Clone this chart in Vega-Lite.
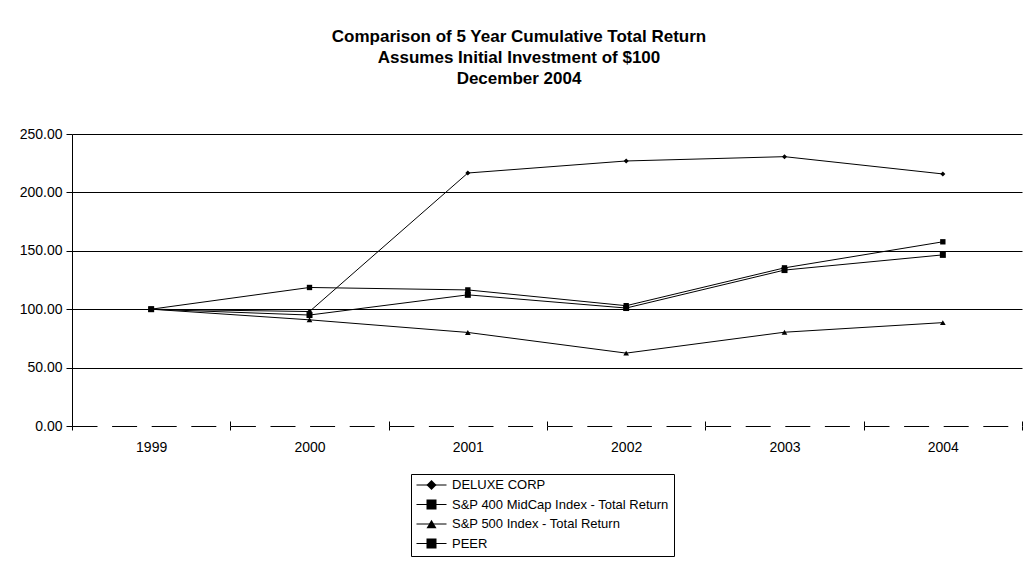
{
  "$schema": "https://vega.github.io/schema/vega-lite/v6.json",
  "width": 950,
  "height": 292,
  "autosize": "none",
  "padding": {"left": 72, "top": 134, "right": 1, "bottom": 141},
  "background": "white",
  "title": {
    "text": ["Comparison of 5 Year Cumulative Total Return", "Assumes Initial Investment of $100", "December 2004"],
    "anchor": "middle",
    "frame": "group",
    "dx": -28,
    "offset": 39,
    "font": "Liberation Sans",
    "fontSize": 17,
    "fontWeight": "bold",
    "color": "black",
    "lineHeight": 21
  },
  "data": {
    "values": [
      {"year": "1999", "series": "DELUXE CORP", "value": 100},
      {"year": "2000", "series": "DELUXE CORP", "value": 98},
      {"year": "2001", "series": "DELUXE CORP", "value": 216.6},
      {"year": "2002", "series": "DELUXE CORP", "value": 226.9},
      {"year": "2003", "series": "DELUXE CORP", "value": 230.6},
      {"year": "2004", "series": "DELUXE CORP", "value": 215.8},
      {"year": "1999", "series": "S&P 400 MidCap Index - Total Return", "value": 100},
      {"year": "2000", "series": "S&P 400 MidCap Index - Total Return", "value": 118.6},
      {"year": "2001", "series": "S&P 400 MidCap Index - Total Return", "value": 116.5},
      {"year": "2002", "series": "S&P 400 MidCap Index - Total Return", "value": 103},
      {"year": "2003", "series": "S&P 400 MidCap Index - Total Return", "value": 135.4},
      {"year": "2004", "series": "S&P 400 MidCap Index - Total Return", "value": 157.7},
      {"year": "1999", "series": "S&P 500 Index - Total Return", "value": 100},
      {"year": "2000", "series": "S&P 500 Index - Total Return", "value": 90.9},
      {"year": "2001", "series": "S&P 500 Index - Total Return", "value": 80.1},
      {"year": "2002", "series": "S&P 500 Index - Total Return", "value": 62.4},
      {"year": "2003", "series": "S&P 500 Index - Total Return", "value": 80.3},
      {"year": "2004", "series": "S&P 500 Index - Total Return", "value": 88.5},
      {"year": "1999", "series": "PEER", "value": 100},
      {"year": "2000", "series": "PEER", "value": 95},
      {"year": "2001", "series": "PEER", "value": 112.3},
      {"year": "2002", "series": "PEER", "value": 101},
      {"year": "2003", "series": "PEER", "value": 133.5},
      {"year": "2004", "series": "PEER", "value": 146.5}
    ]
  },
  "encoding": {
    "y": {
      "field": "value",
      "type": "quantitative",
      "scale": {"domain": [0, 250], "nice": false},
      "axis": {
        "title": null,
        "values": [0, 50, 100, 150, 200, 250],
        "format": ".2f",
        "labelFont": "Liberation Sans",
        "labelFontSize": 14,
        "labelColor": "black",
        "labelPadding": 4,
        "tickSize": 6,
        "tickColor": "black",
        "domainColor": "black",
        "grid": true,
        "gridColor": "black",
        "gridOpacity": {"condition": {"test": "datum.value === 0", "value": 0}, "value": 1}
      }
    }
  },
  "layer": [
    {
      "mark": {"type": "line", "color": "black", "strokeWidth": 1},
      "encoding": {
        "x": {
          "field": "year",
          "type": "ordinal",
          "scale": {"paddingInner": 0, "paddingOuter": 0},
          "axis": {
            "title": null,
            "labelAngle": 0,
            "labelFont": "Liberation Sans",
            "labelFontSize": 14,
            "labelColor": "black",
            "labelPadding": 10,
            "tickBand": "extent",
            "tickSize": 4,
            "tickColor": "black",
            "domainColor": "black",
            "domainDash": [25, 14.6],
            "grid": false
          }
        },
        "opacity": {
          "field": "series",
          "type": "nominal",
          "scale": {
            "domain": ["DELUXE CORP", "S&P 400 MidCap Index - Total Return", "S&P 500 Index - Total Return", "PEER"],
            "range": [1, 1, 1, 1]
          },
          "legend": {
            "orient": "none",
            "legendX": 339,
            "legendY": 340,
            "title": null,
            "strokeColor": "black",
            "padding": 5,
            "rowPadding": 6.5,
            "clipHeight": 12,
            "labelFont": "Liberation Sans",
            "labelFontSize": 13,
            "labelColor": "black",
            "labelOpacity": 0,
            "labelLimit": 400,
            "symbolType": "M-3,0H3",
            "symbolSize": 100,
            "symbolStrokeColor": "black",
            "symbolStrokeWidth": 1,
            "symbolOffset": 9,
            "labelOffset": 14
          }
        }
      }
    },
    {
      "mark": {"type": "point", "filled": true, "color": "black", "opacity": 1},
      "encoding": {
        "x": {
          "field": "year",
          "type": "ordinal",
          "scale": {"paddingInner": 0, "paddingOuter": 0},
          "axis": {
            "title": null,
            "orient": "top",
            "offset": -292,
            "labels": false,
            "domain": false,
            "tickBand": "extent",
            "tickSize": 5,
            "tickColor": "black",
            "grid": false
          }
        },
        "shape": {
          "field": "series",
          "type": "nominal",
          "sort": ["DELUXE CORP", "S&P 400 MidCap Index - Total Return", "S&P 500 Index - Total Return", "PEER"],
          "scale": {
            "range": ["M0,-1L1,0L0,1L-1,0Z", "square", "triangle-up", "square"]
          },
          "legend": {
            "orient": "none",
            "legendX": 339,
            "legendY": 340,
            "title": null,
            "padding": 5,
            "rowPadding": 6.5,
            "clipHeight": 12,
            "labelFont": "Liberation Sans",
            "labelFontSize": 13,
            "labelColor": "black",
            "labelLimit": 400,
            "symbolFillColor": "black",
            "symbolStrokeWidth": 1,
            "symbolOffset": 9,
            "labelOffset": 14
          }
        },
        "size": {
          "field": "series",
          "type": "nominal",
          "sort": ["DELUXE CORP", "S&P 400 MidCap Index - Total Return", "S&P 500 Index - Total Return", "PEER"],
          "scale": {
            "range": [25, 36, 30, 100]
          }
        }
      }
    }
  ],
  "resolve": {"axis": {"x": "independent"}},
  "config": {
    "view": {"stroke": null}
  }
}
